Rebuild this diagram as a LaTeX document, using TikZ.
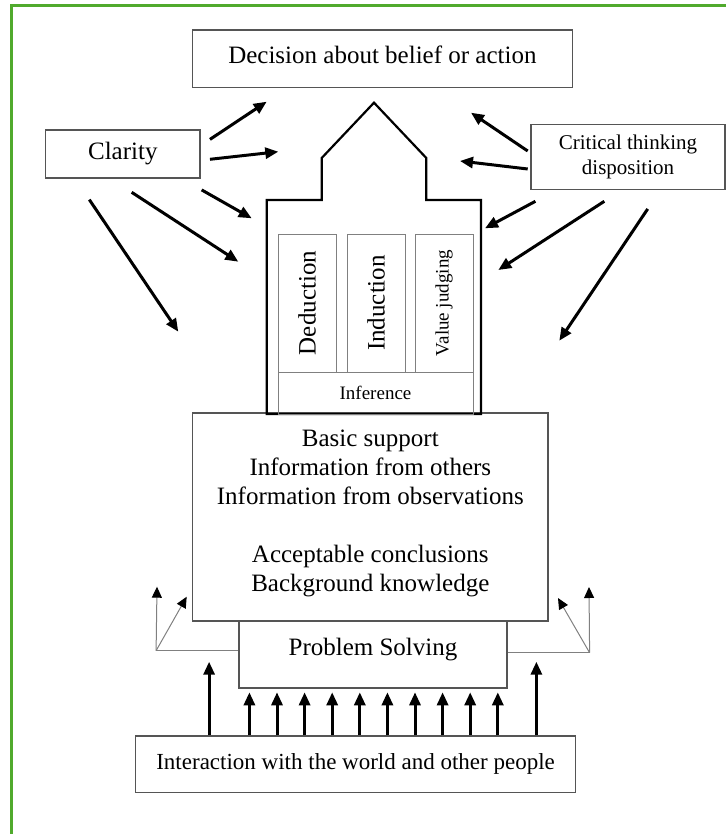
\documentclass[tikz,border=0pt]{standalone}
\usepackage{fontspec}
\setmainfont{Liberation Serif}
\usetikzlibrary{arrows.meta,positioning,calc}
\definecolor{framegreen}{RGB}{80,170,45}
\definecolor{boxgray}{RGB}{85,85,85}

\begin{document}
\begin{tikzpicture}[
  x=1pt, y=-1pt,
  font=\fontsize{25}{29}\selectfont,
  box/.style={draw=boxgray, line width=1.2pt, align=center, inner sep=0pt},
  pillar/.style={draw=gray, line width=1pt, align=center, inner sep=0pt},
  arr/.style={-{Triangle[length=13pt,width=11pt]}, line width=3pt},
  side/.style={-{Triangle[length=11pt,width=10pt,color=black]}, draw=gray, line width=1pt},
  sideline/.style={draw=gray, line width=1pt}]
\useasboundingbox (0,0) rectangle (726,834);
\draw[framegreen, line width=2.5pt] (726,5.7) -- (11.6,5.7) -- (11.6,834);
% boxes
\node[box, minimum width=379.6pt, minimum height=57.3pt, text depth=8pt] (decision) at (382.4,58.7) {Decision about belief or action};
\node[box, minimum width=154.5pt, minimum height=48pt] (clarity) at (122.8,154) {Clarity};
\node[box, minimum width=194pt, minimum height=65pt, font=\fontsize{21}{25}\selectfont] (critical) at (628,157) {Critical thinking\\disposition};
\node[box, minimum width=355.3pt, minimum height=208pt, text depth=13.4pt] (basic) at (370.35,517) {Basic support\\Information from others\\Information from observations\\[29pt]Acceptable conclusions\\Background knowledge};
\node[box, minimum width=268pt, minimum height=67pt, text depth=15pt] (problem) at (373,654.5) {Problem Solving};
\node[box, minimum width=440pt, minimum height=56.3pt, font=\fontsize{23}{27}\selectfont] (interaction) at (355.6,764.2) {Interaction with the world and other people};
% the house
\draw[line width=2.2pt] (266.7,414) -- (266.7,200) -- (321.7,200) -- (321.7,158) -- (374,102.7) -- (426.3,158) -- (426.3,200) -- (481,200) -- (481,414) -- cycle;
\node[pillar, rotate=90, minimum width=138pt, minimum height=58pt] (deduction) at (307,303) {Deduction};
\node[pillar, rotate=90, minimum width=138pt, minimum height=58pt] (induction) at (376,303) {Induction};
\node[pillar, rotate=90, minimum width=138pt, minimum height=58pt, font=\fontsize{19}{22}\selectfont] (valuej) at (444,303) {Value judging};
\node[pillar, minimum width=195pt, minimum height=42pt, font=\fontsize{19}{22}\selectfont] (inference) at (375.5,393) {Inference};
% arrow tips
\coordinate (ca1) at (266.7,101.7); \coordinate (ca2) at (278.3,151.7); \coordinate (ca3) at (251.7,218.3);
\coordinate (ca4) at (238.3,261.7); \coordinate (ca5) at (178.3,331.7);
\coordinate (cb1) at (471,112.7); \coordinate (cb2) at (460,161); \coordinate (cb3) at (485,228.3);
\coordinate (cb4) at (498.3,270); \coordinate (cb5) at (559.3,340.7);
\draw[arr] ([shift={(9.3,10)}]clarity.north east) -- (ca1);
\draw[arr] ([shift={(9.3,5.3)}]clarity.east) -- (ca2);
\draw[arr] ([shift={(1,11.3)}]clarity.south east) -- (ca3);
\draw[arr] ([shift={(8.9,13.7)}]clarity.south) -- (ca4);
\draw[arr] ([shift={(-33.5,21)}]clarity.south) -- (ca5);
\draw[arr] ([shift={(-2.7,-6)}]critical.west) -- (cb1);
\draw[arr] ([shift={(-2.7,12)}]critical.west) -- (cb2);
\draw[arr] ([shift={(5,11.2)}]critical.south west) -- (cb3);
\draw[arr] ([shift={(-23.7,11.2)}]critical.south) -- (cb4);
\draw[arr] ([shift={(19.7,18.8)}]critical.south) -- (cb5);
% from the world upwards
\foreach \i in {0,...,9} {
  \coordinate (bt) at ($(interaction.north west)+(114.4+\i*27.6,0)$);
  \draw[arr, shorten >=3.7pt] (bt) -- (bt |- problem.south);
}
\coordinate (bl) at ($(interaction.north west)+(74.1,0)$);
\coordinate (br) at ($(interaction.north west)+(401.4,0)$);
\draw[arr, shorten >=7.2pt] (bl) -- (bl |- problem.west);
\draw[arr, shorten >=7.2pt] (br) -- (br |- problem.west);
% side branches
\coordinate (lc) at ([shift={(-82.3,-3.8)}]problem.west);
\coordinate (rc) at ([shift={(82,-1.8)}]problem.east);
\coordinate (lup) at (157,586.7); \coordinate (ldiag) at (186.7,596.7);
\coordinate (rup) at (589,587); \coordinate (rdiag) at (558,598);
\draw[sideline] ([shift={(0,-3.8)}]problem.west) -- (lc);
\draw[sideline] ([shift={(0,-1.8)}]problem.east) -- (rc);
\draw[side] (lc) -- (lup);
\draw[side] (lc) -- (ldiag);
\draw[side] (rc) -- (rup);
\draw[side] (rc) -- (rdiag);
\end{tikzpicture}
\end{document}
